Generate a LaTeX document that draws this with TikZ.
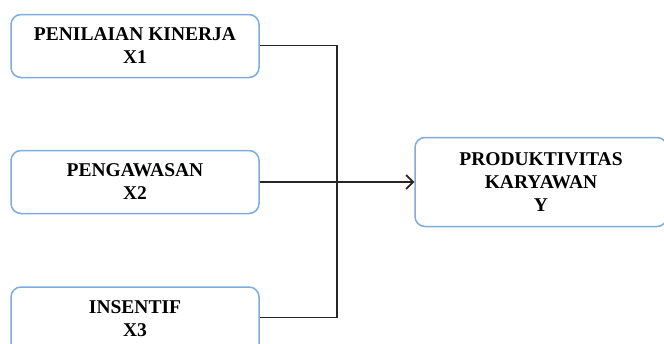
\documentclass[tikz,border=0pt]{standalone}
\usepackage{fontspec}
\setmainfont{Liberation Serif}
\usetikzlibrary{arrows.meta}
\definecolor{boxblue}{RGB}{125,172,222}
\tikzset{
  vbox/.style={draw=boxblue, line width=1.5pt, rounded corners=10pt, fill=white,
    align=center, font=\bfseries\fontsize{19.5}{23}\selectfont, inner sep=0pt},
  conn/.style={draw=black!85, line width=1.6pt},
}
\begin{document}
\begin{tikzpicture}[x=1pt,y=-1pt]
\useasboundingbox (0,0) rectangle (664,343);
\node[vbox, minimum width=248pt, minimum height=63pt] (x1) at (135,46) {PENILAIAN KINERJA\\X1};
\node[vbox, minimum width=248pt, minimum height=63pt] (x2) at (135,182) {PENGAWASAN\\X2};
\node[vbox, minimum width=248pt, minimum height=80pt] (x3) at (135,327) {};
\node[font=\bfseries\fontsize{19.5}{23}\selectfont, align=center, anchor=north] (t3) at (135,297) {INSENTIF\\X3};
\node[vbox, minimum width=252pt, minimum height=89pt] (y) at (541,182) {PRODUKTIVITAS\\KARYAWAN\\Y};
\coordinate (j) at (337,182);
\draw[conn] (x1.east |- 0,45.5) -| (j);
\draw[conn] (x3.east |- 0,317.5) -| (j);
\draw[conn, -{Straight Barb[length=7pt,width=14pt]}] (x2.east) -- (y.west);
\end{tikzpicture}
\end{document}
